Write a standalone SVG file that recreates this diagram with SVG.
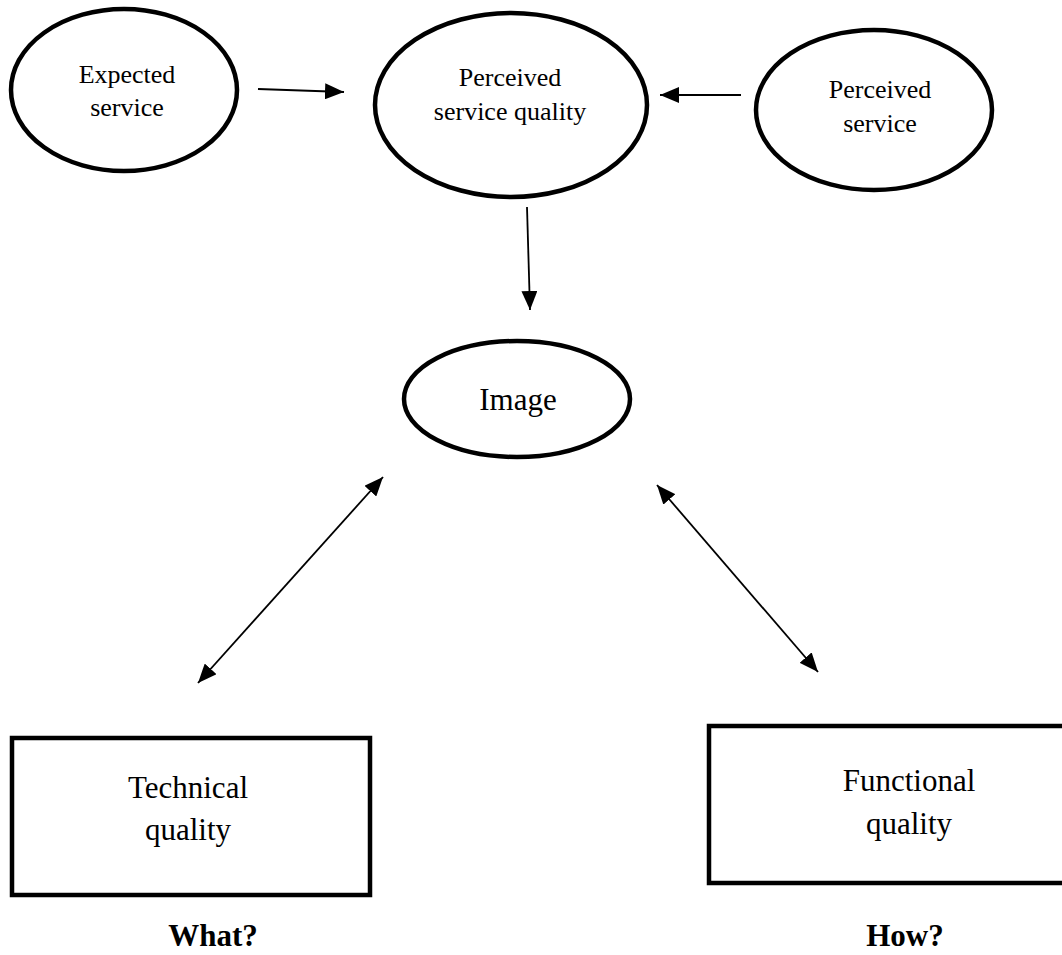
<svg xmlns="http://www.w3.org/2000/svg" width="1062" height="955" viewBox="0 0 1062 955">
<style>
.node{fill:#fff;stroke:#000;stroke-width:4.5}
.t26{font-family:"Liberation Serif","Times New Roman",serif;font-size:26px;fill:#000;text-anchor:middle}
.t31{font-family:"Liberation Serif","Times New Roman",serif;font-size:31px;fill:#000;text-anchor:middle}
.b31{font-family:"Liberation Serif","Times New Roman",serif;font-size:31px;font-weight:bold;fill:#000;text-anchor:middle}
.edge{stroke:#000;stroke-width:1.8;fill:none}
</style>
<defs>
<marker id="ah" viewBox="0 0 19 16" refX="19" refY="8" markerWidth="19" markerHeight="16" markerUnits="userSpaceOnUse" orient="auto-start-reverse">
<path d="M0,0 L19,8 L0,16 z" fill="#000"/>
</marker>
</defs>
<rect width="1062" height="955" fill="#fff"/>
<g id="connectors">
<line class="edge" x1="258" y1="89" x2="344" y2="92" marker-end="url(#ah)"/>
<line class="edge" x1="741" y1="95" x2="660" y2="95" marker-end="url(#ah)"/>
<line class="edge" x1="527" y1="207" x2="530" y2="310" marker-end="url(#ah)"/>
<line class="edge" x1="383" y1="477" x2="198" y2="683" marker-start="url(#ah)" marker-end="url(#ah)"/>
<line class="edge" x1="657" y1="485" x2="818" y2="672" marker-start="url(#ah)" marker-end="url(#ah)"/>
</g>
<g id="expected-service">
<ellipse class="node" cx="124" cy="90" rx="113" ry="81"/>
<text class="t26" x="127" y="83">Expected</text>
<text class="t26" x="127" y="116">service</text>
</g>
<g id="perceived-service-quality">
<ellipse class="node" cx="511" cy="105" rx="136" ry="92"/>
<text class="t26" x="510" y="86">Perceived</text>
<text class="t26" x="510" y="120">service quality</text>
</g>
<g id="perceived-service">
<ellipse class="node" cx="874" cy="110" rx="118" ry="80"/>
<text class="t26" x="880" y="98">Perceived</text>
<text class="t26" x="880" y="132">service</text>
</g>
<g id="image">
<ellipse class="node" cx="517" cy="399" rx="113" ry="58"/>
<text class="t31" x="518" y="410">Image</text>
</g>
<g id="technical-quality">
<rect class="node" x="12" y="738" width="358" height="157"/>
<text class="t31" x="188" y="798">Technical</text>
<text class="t31" x="188" y="840">quality</text>
<text class="b31" x="213" y="946">What?</text>
</g>
<g id="functional-quality">
<rect class="node" x="709" y="726" width="360" height="157"/>
<text class="t31" x="909" y="791">Functional</text>
<text class="t31" x="909" y="834">quality</text>
<text class="b31" x="905" y="946">How?</text>
</g>
</svg>
